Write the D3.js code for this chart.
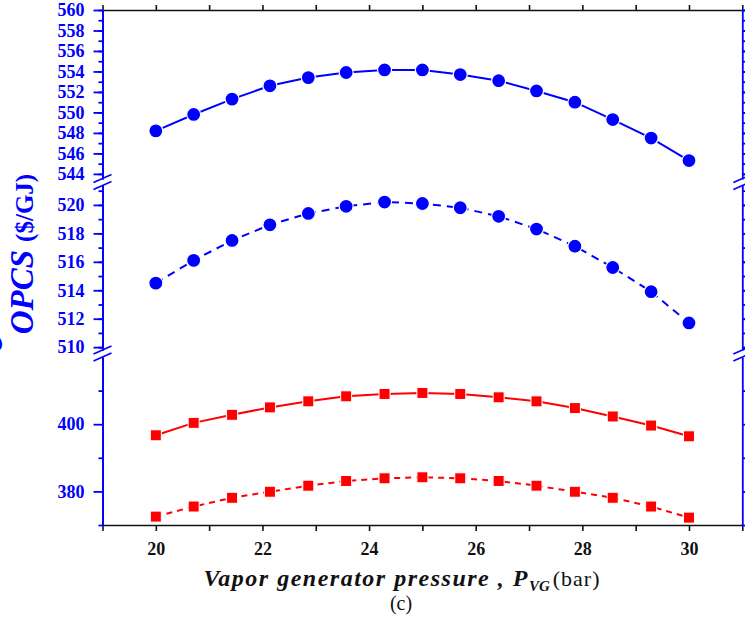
<!DOCTYPE html>
<html>
<head>
<meta charset="utf-8">
<script src="https://cdn.jsdelivr.net/npm/d3@7"></script>
<style>
  body { margin: 0; background: #fff; }
  svg { display: block; }
  text { font-family: "Liberation Serif", "Times New Roman", serif; }
</style>
</head>
<body>
<svg id="chart"></svg>
<script>
// x values (bar)
let pressure = [20, 20.71, 21.43, 22.14, 22.86, 23.57, 24.29, 25, 25.71, 26.43, 27.14, 27.86, 28.57, 29.29, 30]

// blue series, top panel (solid) and middle panel (dashed)
let blueSolid = [548.2, 549.8, 551.3, 552.6, 553.4, 553.9, 554.15, 554.15, 553.7, 553.1, 552.1, 551.0, 549.3, 547.5, 545.3]
let blueDashed = [514.5, 516.1, 517.5, 518.6, 519.4, 519.9, 520.2, 520.1, 519.8, 519.2, 518.3, 517.1, 515.6, 513.9, 511.7]

// red series, bottom panel
let redSolid = [396.7, 400.4, 402.8, 405.0, 406.8, 408.3, 409.0, 409.3, 409.0, 408.0, 406.8, 404.8, 402.3, 399.6, 396.4]
let redDashed = [372.5, 375.5, 378.1, 379.9, 381.7, 383.1, 383.9, 384.2, 383.9, 383.1, 381.7, 379.9, 378.1, 375.5, 372.2]

// tick labels
let xLabels = [20, 22, 24, 26, 28, 30]
let topLabels = [544, 546, 548, 550, 552, 554, 556, 558, 560]
let midLabels = [510, 512, 514, 516, 518, 520]
let lowLabels = [380, 400]

let width = 745
let height = 618
let plotLeft = 102.5
let plotRight = 742.3
let plotTop = 10
let plotBottom = 525

let blue = '#0000ff'
let red = '#ff0000'

let svg = d3.select('svg')
svg.attr('width', width).attr('height', height)

let xscale = d3.scaleLinear().domain([19, 31]).range([plotLeft, plotRight])

let segments = [
  { scale: d3.scaleLinear().domain([543.5, 560]).range([179, plotTop]), minor: d3.range(544, 561), major: topLabels },
  { scale: d3.scaleLinear().domain([509.8, 521.4]).range([350, 185]), minor: d3.range(510, 522), major: midLabels },
  { scale: d3.scaleLinear().domain([370, 420]).range([plotBottom, 357]), minor: [370, 390, 410], major: lowLabels }
]
let breaks = [182, 353.5]

// top and bottom axes (black)
svg.append('g')
  .attr('transform', 'translate(0,' + plotTop + ')')
  .call(d3.axisTop(xscale).tickValues(d3.range(19, 32)).tickSize(5).tickSizeOuter(0).tickFormat(''))
  .call(g => g.selectAll('path,line').attr('stroke', '#111').attr('stroke-width', 1.6))

svg.append('g')
  .attr('transform', 'translate(0,' + plotBottom + ')')
  .call(d3.axisBottom(xscale).tickValues(d3.range(19, 32)).tickSize(6).tickSizeOuter(0).tickPadding(11)
    .tickFormat(d => xLabels.includes(d) ? d : ''))
  .call(g => g.selectAll('path,line').attr('stroke', '#111').attr('stroke-width', 1.6))
  .call(g => g.selectAll('text').attr('font-size', 18).attr('font-weight', 'bold').attr('fill', '#111')
    .attr('font-family', '"Liberation Serif", serif'))

// left and right axes (blue), one piece per segment
segments.forEach(seg => {
  let minorAxis = d3.axisLeft(seg.scale).tickValues(seg.minor).tickSize(4).tickSizeOuter(0).tickFormat('')
  let majorAxis = d3.axisLeft(seg.scale).tickValues(seg.major).tickSize(9).tickSizeOuter(0).tickPadding(9)
  svg.append('g').attr('transform', 'translate(' + plotLeft + ',0)').call(minorAxis)
    .call(g => g.selectAll('path,line').attr('stroke', blue).attr('stroke-width', 1.8))
  svg.append('g').attr('transform', 'translate(' + plotLeft + ',0)').call(majorAxis)
    .call(g => g.selectAll('path,line').attr('stroke', blue).attr('stroke-width', 1.8))
    .call(g => g.selectAll('text').attr('font-size', 18).attr('font-weight', 'bold').attr('fill', blue)
      .attr('font-family', '"Liberation Serif", serif'))

  let rightAxis = d3.axisRight(seg.scale).tickValues(seg.minor.concat(seg.major)).tickSize(6).tickSizeOuter(0).tickFormat('')
  svg.append('g').attr('transform', 'translate(' + plotRight + ',0)').call(rightAxis)
    .call(g => g.selectAll('path,line').attr('stroke', blue).attr('stroke-width', 1.8))
})

// break marks
breaks.forEach(yb => {
  [plotLeft, plotRight].forEach(ax => {
    [-3.5, 3.5].forEach(d => {
      svg.append('line')
        .attr('x1', ax - 9).attr('y1', yb + d + 4)
        .attr('x2', ax + 9).attr('y2', yb + d - 4)
        .attr('stroke', blue).attr('stroke-width', 1.6)
    })
  })
})

// series
let series = [
  { values: blueSolid, seg: 0, color: blue, dash: null, shape: 'circle' },
  { values: blueDashed, seg: 1, color: blue, dash: '8,6', shape: 'circle' },
  { values: redSolid, seg: 2, color: red, dash: null, shape: 'square' },
  { values: redDashed, seg: 2, color: red, dash: '6,5', shape: 'square' }
]

series.forEach(s => {
  let yscale = segments[s.seg].scale
  let line = d3.line()
    .x((d, i) => xscale(pressure[i]))
    .y(d => yscale(d))
  svg.append('path')
    .datum(s.values)
    .attr('d', line)
    .attr('fill', 'none')
    .attr('stroke', s.color)
    .attr('stroke-width', 2)
    .attr('stroke-dasharray', s.dash)

  if (s.shape == 'circle') {
    svg.selectAll(null)
      .data(s.values)
      .enter()
      .append('circle')
      .attr('cx', (d, i) => xscale(pressure[i]))
      .attr('cy', d => yscale(d))
      .attr('r', 7)
      .attr('fill', s.color)
      .attr('stroke', '#fff')
      .attr('stroke-width', 1.2)
  } else {
    svg.selectAll(null)
      .data(s.values)
      .enter()
      .append('rect')
      .attr('x', (d, i) => xscale(pressure[i]) - 5.5)
      .attr('y', d => yscale(d) - 5.5)
      .attr('width', 11)
      .attr('height', 11)
      .attr('fill', s.color)
      .attr('stroke', '#fff')
      .attr('stroke-width', 1)
  }
})

// y title, the leading c is cut by the left edge as in the original
let ytitle = svg.append('text')
  .attr('transform', 'translate(33,352) rotate(-90)')
  .attr('fill', blue)
  .attr('font-weight', 'bold')
ytitle.append('tspan').attr('font-style', 'italic').attr('font-size', 40).attr('dy', -31).text('c')
ytitle.append('tspan').attr('font-style', 'italic').attr('font-size', 33).attr('dy', 31).text('OPCS')
ytitle.append('tspan').attr('font-size', 25).attr('dx', 8).text('($/GJ)')

// x title
let xtitle = svg.append('text')
  .attr('x', 402)
  .attr('y', 586)
  .attr('text-anchor', 'middle')
  .attr('fill', '#111')
xtitle.append('tspan').attr('font-style', 'italic').attr('font-weight', 'bold').attr('font-size', 24)
  .attr('letter-spacing', 1.5).text('Vapor generator pressure , P')
xtitle.append('tspan').attr('font-style', 'italic').attr('font-weight', 'bold').attr('font-size', 15)
  .attr('dy', 5).text('VG')
xtitle.append('tspan').attr('font-size', 22).attr('dy', -5).attr('dx', 3).attr('letter-spacing', 1).text('(bar)')

svg.append('text')
  .attr('x', 401)
  .attr('y', 610)
  .attr('text-anchor', 'middle')
  .attr('font-size', 20)
  .attr('fill', '#111')
  .text('(c)')
</script>
</body>
</html>
